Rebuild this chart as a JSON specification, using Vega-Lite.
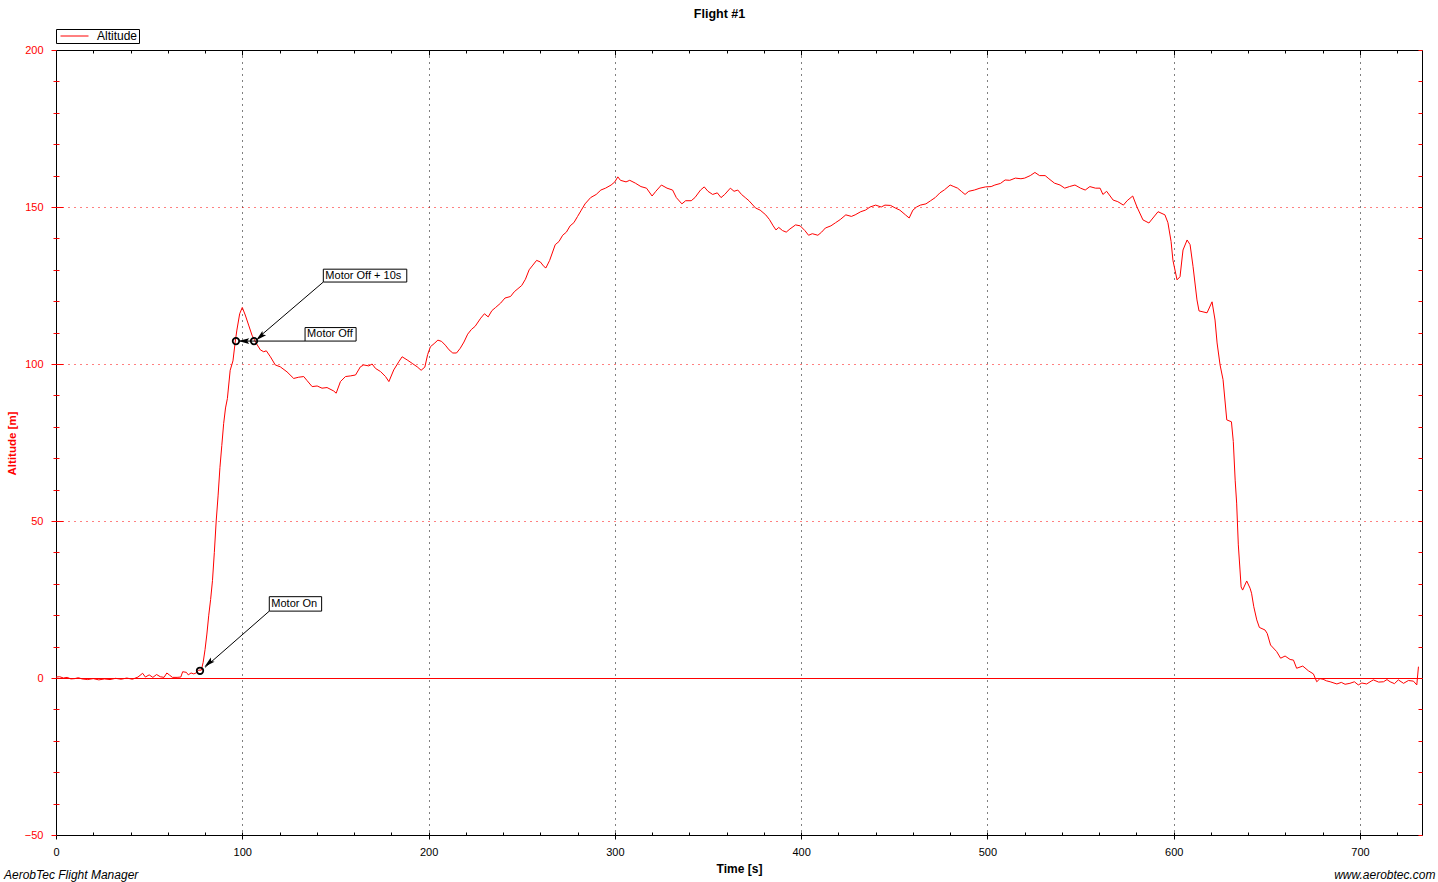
{
  "$schema": "https://vega.github.io/schema/vega-lite/v6.json",
  "width": 1366,
  "height": 785,
  "autosize": {"type": "none"},
  "padding": {"left": 56, "top": 50, "right": 16, "bottom": 47},
  "background": "white",
  "config": {
    "font": "Liberation Sans",
    "view": {"stroke": "black", "strokeWidth": 1},
    "axis": {"labelFont": "Liberation Sans", "titleFont": "Liberation Sans", "domain": false},
    "legend": {"labelFont": "Liberation Sans"}
  },
  "title": {
    "text": "AerobTec Flight Manager",
    "orient": "bottom",
    "anchor": "start",
    "frame": "group",
    "font": "Liberation Sans",
    "fontStyle": "italic",
    "fontWeight": "normal",
    "fontSize": 12,
    "color": "black",
    "dx": -52,
    "offset": -10
  },
  "datasets": {
    "altitude": [
      {"t": 0, "alt": 0.3}, {"t": 2, "alt": 0.4}, {"t": 4, "alt": 0}, {"t": 6, "alt": 0.2}, {"t": 8, "alt": -0.3},
      {"t": 10, "alt": -0.2}, {"t": 12, "alt": 0.1}, {"t": 14, "alt": -0.3}, {"t": 17, "alt": -0.5}, {"t": 20, "alt": -0.2},
      {"t": 23, "alt": -0.6}, {"t": 26, "alt": -0.3}, {"t": 29, "alt": -0.5}, {"t": 32, "alt": -0.1}, {"t": 35, "alt": -0.4},
      {"t": 38, "alt": 0}, {"t": 41, "alt": -0.4}, {"t": 44, "alt": 0.3}, {"t": 46.5, "alt": 1.5}, {"t": 48, "alt": 0.3},
      {"t": 50, "alt": 1.0}, {"t": 52, "alt": 0.2}, {"t": 54, "alt": 1.1}, {"t": 56, "alt": 0.4}, {"t": 58, "alt": 0.2},
      {"t": 59.5, "alt": 1.6}, {"t": 61, "alt": 0.9}, {"t": 62.5, "alt": 0.2}, {"t": 65, "alt": 0.2}, {"t": 67, "alt": 0.3},
      {"t": 68, "alt": 2.0}, {"t": 70, "alt": 1.8}, {"t": 71, "alt": 1.0}, {"t": 72.5, "alt": 1.6}, {"t": 74, "alt": 1.3},
      {"t": 75.5, "alt": 1.7}, {"t": 76.5, "alt": 2.5}, {"t": 78, "alt": 2.5}, {"t": 79, "alt": 5},
      {"t": 80, "alt": 9}, {"t": 81, "alt": 14}, {"t": 82, "alt": 20}, {"t": 83, "alt": 25}, {"t": 84, "alt": 31},
      {"t": 85, "alt": 40}, {"t": 86, "alt": 50}, {"t": 87, "alt": 58}, {"t": 88, "alt": 67}, {"t": 89, "alt": 74},
      {"t": 90, "alt": 81}, {"t": 91, "alt": 86}, {"t": 92, "alt": 89}, {"t": 93.5, "alt": 98}, {"t": 95, "alt": 101},
      {"t": 96.2, "alt": 107}, {"t": 97.1, "alt": 110.8}, {"t": 98.6, "alt": 116}, {"t": 100, "alt": 118}, {"t": 101.6, "alt": 115.6},
      {"t": 103.4, "alt": 112.4}, {"t": 105.2, "alt": 109.2}, {"t": 107.5, "alt": 106.6}, {"t": 109.7, "alt": 104.5}, {"t": 111.5, "alt": 103.9},
      {"t": 112.9, "alt": 104.2}, {"t": 115.1, "alt": 102.3}, {"t": 117.7, "alt": 99.7}, {"t": 120.4, "alt": 99.1}, {"t": 124, "alt": 97.5},
      {"t": 127.6, "alt": 95.4}, {"t": 130.3, "alt": 95.8}, {"t": 133, "alt": 96}, {"t": 134.8, "alt": 94.7}, {"t": 137.5, "alt": 92.8},
      {"t": 140.2, "alt": 93}, {"t": 142.8, "alt": 92.3}, {"t": 145.5, "alt": 92.5}, {"t": 149.1, "alt": 91.4}, {"t": 150.4, "alt": 90.7},
      {"t": 152.7, "alt": 94.4}, {"t": 155.4, "alt": 96}, {"t": 158, "alt": 96.2}, {"t": 160.8, "alt": 96.5}, {"t": 163.4, "alt": 99.1},
      {"t": 165.2, "alt": 99.7}, {"t": 167.9, "alt": 99.4}, {"t": 169.7, "alt": 100}, {"t": 171.5, "alt": 98.6}, {"t": 174.2, "alt": 97.6},
      {"t": 176.9, "alt": 96}, {"t": 178.7, "alt": 94.4}, {"t": 181.3, "alt": 98.1}, {"t": 184, "alt": 100.7}, {"t": 185.8, "alt": 102.3},
      {"t": 188.5, "alt": 101.3}, {"t": 191.2, "alt": 100.2}, {"t": 193.9, "alt": 99.1}, {"t": 196, "alt": 98}, {"t": 198, "alt": 99},
      {"t": 199.5, "alt": 103}, {"t": 201, "alt": 105.5}, {"t": 203, "alt": 106.5}, {"t": 205, "alt": 107.6}, {"t": 207, "alt": 107.2},
      {"t": 209, "alt": 106}, {"t": 211, "alt": 104.5}, {"t": 213, "alt": 103.5}, {"t": 215, "alt": 103.5}, {"t": 217, "alt": 105},
      {"t": 219, "alt": 107}, {"t": 221, "alt": 109.5}, {"t": 223, "alt": 111}, {"t": 225, "alt": 112}, {"t": 228, "alt": 114.6},
      {"t": 230, "alt": 116}, {"t": 232, "alt": 115}, {"t": 234, "alt": 117}, {"t": 236, "alt": 118}, {"t": 238.7, "alt": 119.4},
      {"t": 241, "alt": 121}, {"t": 244, "alt": 121.5}, {"t": 246, "alt": 123}, {"t": 248, "alt": 124}, {"t": 250, "alt": 125},
      {"t": 252, "alt": 127}, {"t": 254, "alt": 130}, {"t": 256, "alt": 131.5}, {"t": 258, "alt": 133}, {"t": 260, "alt": 132.5},
      {"t": 262, "alt": 131}, {"t": 263, "alt": 130.6}, {"t": 265, "alt": 133}, {"t": 268, "alt": 138}, {"t": 270, "alt": 139},
      {"t": 272, "alt": 141}, {"t": 274, "alt": 142}, {"t": 276, "alt": 144}, {"t": 278, "alt": 145}, {"t": 280, "alt": 147},
      {"t": 282, "alt": 149}, {"t": 284, "alt": 151}, {"t": 287, "alt": 153}, {"t": 290, "alt": 154}, {"t": 292.5, "alt": 155.4},
      {"t": 295, "alt": 156}, {"t": 298, "alt": 157}, {"t": 300, "alt": 158}, {"t": 301.6, "alt": 159.6}, {"t": 303, "alt": 158.5},
      {"t": 306, "alt": 158}, {"t": 308, "alt": 158.5}, {"t": 311, "alt": 157.6}, {"t": 314, "alt": 156.5}, {"t": 317, "alt": 156},
      {"t": 320, "alt": 153.5}, {"t": 322, "alt": 155}, {"t": 325, "alt": 157}, {"t": 328, "alt": 156}, {"t": 331, "alt": 155.4},
      {"t": 333, "alt": 153}, {"t": 336, "alt": 151}, {"t": 338, "alt": 152}, {"t": 341, "alt": 152}, {"t": 343, "alt": 153},
      {"t": 346, "alt": 155.4}, {"t": 348, "alt": 156.4}, {"t": 350, "alt": 155}, {"t": 352.5, "alt": 154}, {"t": 355, "alt": 154.5},
      {"t": 357, "alt": 153}, {"t": 359, "alt": 154}, {"t": 362, "alt": 156}, {"t": 364, "alt": 155}, {"t": 366, "alt": 155.4},
      {"t": 368, "alt": 154}, {"t": 370, "alt": 153}, {"t": 372, "alt": 152}, {"t": 375.5, "alt": 149.7}, {"t": 378, "alt": 149},
      {"t": 381, "alt": 147.5}, {"t": 383, "alt": 146}, {"t": 385, "alt": 144}, {"t": 386.5, "alt": 142.7}, {"t": 388, "alt": 143.5},
      {"t": 390, "alt": 142.5}, {"t": 392, "alt": 142}, {"t": 394, "alt": 143}, {"t": 397, "alt": 144.3}, {"t": 399.5, "alt": 144},
      {"t": 402, "alt": 142.5}, {"t": 404, "alt": 141}, {"t": 406, "alt": 141.5}, {"t": 409, "alt": 141}, {"t": 411, "alt": 142},
      {"t": 413, "alt": 143.3}, {"t": 416, "alt": 144}, {"t": 418.5, "alt": 145}, {"t": 421, "alt": 146}, {"t": 424, "alt": 147.5},
      {"t": 427, "alt": 147}, {"t": 429, "alt": 147.5}, {"t": 432, "alt": 148.5}, {"t": 434.5, "alt": 149}, {"t": 437, "alt": 150},
      {"t": 440, "alt": 150.6}, {"t": 443, "alt": 150}, {"t": 445, "alt": 150.6}, {"t": 448, "alt": 150.5}, {"t": 450.5, "alt": 149.7},
      {"t": 453, "alt": 149}, {"t": 456, "alt": 147.5}, {"t": 458, "alt": 146.5}, {"t": 460, "alt": 149}, {"t": 462, "alt": 150},
      {"t": 464, "alt": 150.6}, {"t": 467, "alt": 151}, {"t": 469.5, "alt": 152}, {"t": 472, "alt": 153}, {"t": 474.5, "alt": 154.5},
      {"t": 477, "alt": 155.5}, {"t": 480, "alt": 157}, {"t": 482, "alt": 156.5}, {"t": 484, "alt": 156}, {"t": 486, "alt": 155},
      {"t": 488, "alt": 154}, {"t": 490, "alt": 155}, {"t": 493, "alt": 155.4}, {"t": 496, "alt": 156}, {"t": 499, "alt": 156.4},
      {"t": 502, "alt": 156.5}, {"t": 504, "alt": 157}, {"t": 507, "alt": 157.5}, {"t": 509.5, "alt": 158.6}, {"t": 512, "alt": 158.5},
      {"t": 515, "alt": 159.2}, {"t": 518, "alt": 159}, {"t": 520, "alt": 159.2}, {"t": 523, "alt": 160}, {"t": 525.5, "alt": 161},
      {"t": 528, "alt": 160}, {"t": 531, "alt": 160}, {"t": 533, "alt": 159}, {"t": 536, "alt": 157.6}, {"t": 539, "alt": 157},
      {"t": 541.5, "alt": 156}, {"t": 544, "alt": 156.5}, {"t": 547, "alt": 157}, {"t": 550, "alt": 156}, {"t": 552.5, "alt": 155.4},
      {"t": 555, "alt": 156.5}, {"t": 558, "alt": 156}, {"t": 560.5, "alt": 156}, {"t": 562, "alt": 154}, {"t": 564, "alt": 155},
      {"t": 567.5, "alt": 152.2}, {"t": 570, "alt": 151.7}, {"t": 573, "alt": 150.6}, {"t": 575, "alt": 152}, {"t": 578, "alt": 153.5},
      {"t": 580.3, "alt": 150}, {"t": 583.5, "alt": 145.9}, {"t": 586.7, "alt": 144.9}, {"t": 591.6, "alt": 148.5}, {"t": 595.3, "alt": 147.5},
      {"t": 596.9, "alt": 145}, {"t": 598.6, "alt": 139}, {"t": 599.6, "alt": 133}, {"t": 601.8, "alt": 126.8}, {"t": 603.4, "alt": 127.8},
      {"t": 605, "alt": 136.3}, {"t": 607.2, "alt": 139.5}, {"t": 608.8, "alt": 138}, {"t": 610.4, "alt": 131}, {"t": 612.5, "alt": 120.4},
      {"t": 613.6, "alt": 116.9}, {"t": 617.9, "alt": 116.3}, {"t": 620.6, "alt": 119.8}, {"t": 622.2, "alt": 114}, {"t": 623.3, "alt": 106.7},
      {"t": 624.9, "alt": 99.7}, {"t": 626.5, "alt": 95}, {"t": 628.5, "alt": 82.2}, {"t": 631, "alt": 81.6}, {"t": 632, "alt": 75.3},
      {"t": 633, "alt": 63}, {"t": 633.8, "alt": 55.7}, {"t": 634.7, "alt": 42.4}, {"t": 635.6, "alt": 34.4}, {"t": 636.2, "alt": 29},
      {"t": 637, "alt": 28}, {"t": 639.2, "alt": 30.9}, {"t": 641, "alt": 28.6}, {"t": 641.8, "alt": 27}, {"t": 643, "alt": 22.7},
      {"t": 644.6, "alt": 18.5}, {"t": 646, "alt": 16.1}, {"t": 649, "alt": 15.3}, {"t": 650.2, "alt": 14.2}, {"t": 652, "alt": 10.5},
      {"t": 655.3, "alt": 8.4}, {"t": 657.4, "alt": 6.3}, {"t": 659.8, "alt": 7}, {"t": 662.5, "alt": 5.9}, {"t": 664.3, "alt": 5.7},
      {"t": 666, "alt": 3.1}, {"t": 669.3, "alt": 3.8}, {"t": 672.3, "alt": 2.3}, {"t": 675, "alt": 1.3}, {"t": 676.8, "alt": -1.2},
      {"t": 678.5, "alt": -0.2}, {"t": 680.2, "alt": -0.4}, {"t": 682, "alt": -0.9}, {"t": 684, "alt": -1.2}, {"t": 687.6, "alt": -1.9},
      {"t": 690, "alt": -1.4}, {"t": 692, "alt": -2.0}, {"t": 694.6, "alt": -1.7}, {"t": 697, "alt": -1.2}, {"t": 699.1, "alt": -2.2},
      {"t": 701, "alt": -1.6}, {"t": 703.6, "alt": -1.9}, {"t": 706, "alt": -1.0}, {"t": 707.2, "alt": -0.6}, {"t": 710, "alt": -1.3},
      {"t": 712.6, "alt": -1.2}, {"t": 714.5, "alt": -0.5}, {"t": 716.2, "alt": -1.2}, {"t": 718.5, "alt": -1.8}, {"t": 720.6, "alt": -0.6},
      {"t": 723.4, "alt": -1.7}, {"t": 726, "alt": -0.8}, {"t": 728.7, "alt": -1}, {"t": 730.5, "alt": -2.2}, {"t": 731.4, "alt": 3.6}
    ],
    "events": [
      {"event": "Motor On", "t": 77.3, "alt": 2.3},
      {"event": "Motor Off", "t": 96.6, "alt": 107.3},
      {"event": "Motor Off + 10s", "t": 106.3, "alt": 107.3}
    ],
    "labels": [
      {"label": "Motor On", "tx": 115.6, "ty": 23.6, "bx1": 114.5, "bx2": 142.6, "by1": 25.9, "by2": 21.3},
      {"label": "Motor Off", "tx": 134.8, "ty": 109.4, "bx1": 133.7, "bx2": 161.1, "by1": 111.6, "by2": 107.3},
      {"label": "Motor Off + 10s", "tx": 144.6, "ty": 128.1, "bx1": 143.5, "bx2": 188.3, "by1": 130.2, "by2": 126.1}
    ],
    "arrows": [
      {"label": "Motor On", "x1": 114.5, "y1": 21.3, "x2": 80, "y2": 3.4},
      {"label": "Motor Off", "x1": 133.7, "y1": 107.3, "x2": 98.5, "y2": 107.3},
      {"label": "Motor Off + 10s", "x1": 143.5, "y1": 126.1, "x2": 108.4, "y2": 108.3}
    ],
    "heads": [
      {"label": "Motor On", "t": 82.3, "alt": 4.9},
      {"label": "Motor Off", "t": 101.3, "alt": 107.3},
      {"label": "Motor Off + 10s", "t": 110.0, "alt": 108.9}
    ]
  },
  "resolve": {"axis": {"x": "independent", "y": "independent"}},
  "layer": [
    {
      "data": {"name": "altitude"},
      "mark": {"type": "line", "strokeWidth": 1, "interpolate": "linear"},
      "encoding": {
        "x": {
          "field": "t", "type": "quantitative",
          "scale": {"domain": [0, 733.3], "nice": false, "zero": false},
          "axis": {
            "orient": "bottom",
            "values": [0, 100, 200, 300, 400, 500, 600, 700],
            "tickSize": 4, "tickColor": "black", "tickWidth": 1,
            "labelFontSize": 11, "labelColor": "black", "labelPadding": 7, "labelFlush": false,
            "title": "Time [s]", "titleFontSize": 12, "titleFontWeight": "bold", "titleColor": "black",
            "titleY": 37, "titleBaseline": "alphabetic",
            "grid": true, "gridColor": "black", "gridDash": [1, 5], "gridWidth": 1,
            "gridOpacity": {"condition": {"test": "datum.value > 0", "value": 1}, "value": 0}
          }
        },
        "y": {
          "field": "alt", "type": "quantitative",
          "scale": {"domain": [-50, 200], "nice": false, "zero": false},
          "axis": {
            "orient": "left",
            "values": [-50, 0, 50, 100, 150, 200],
            "tickSize": 5, "tickColor": "#ff0000", "tickWidth": 1,
            "labelFontSize": 11, "labelColor": "#ff0000", "labelPadding": 8, "labelFlush": false,
            "title": "Altitude [m]", "titleFontSize": 11.5, "titleFontWeight": "bold", "titleColor": "#ff0000",
            "titleX": -40.5, "titleY": 393, "titleAngle": 270, "titleBaseline": "alphabetic", "titleAlign": "center",
            "grid": true, "gridColor": "#ff0000", "gridWidth": 1,
            "gridDash": {"condition": {"test": "datum.value === 0", "value": []}, "value": [1, 5]},
            "gridOpacity": {"condition": {"test": "datum.value > -50 && datum.value < 200", "value": 1}, "value": 0}
          }
        },
        "color": {
          "datum": "Altitude",
          "scale": {"range": ["#ff0000"]},
          "legend": {
            "orient": "none", "legendX": 0, "legendY": -21,
            "title": null, "symbolType": "stroke", "symbolSize": 784, "symbolStrokeWidth": 1,
            "clipHeight": 12,
            "symbolOffset": 3, "labelFontSize": 12, "labelColor": "black", "labelOffset": 8,
            "labelExpr": "datum.label + '  '",
            "padding": 1, "strokeColor": "black", "fillColor": "white"
          }
        }
      }
    },
    {
      "data": {"name": "events"},
      "mark": {"type": "point", "opacity": 0},
      "encoding": {
        "x": {
          "field": "t", "type": "quantitative",
          "axis": {
            "orient": "top",
            "values": [0, 20, 40, 60, 80, 100, 120, 140, 160, 180, 200, 220, 240, 260, 280, 300, 320, 340, 360, 380, 400, 420, 440, 460, 480, 500, 520, 540, 560, 580, 600, 620, 640, 660, 680, 700, 720],
            "labels": false, "grid": false, "tickColor": "black",
            "tickSize": {"condition": {"test": "datum.value % 100 === 0", "value": -5}, "value": -3},
            "title": "Flight #1", "titleFontSize": 12.5, "titleFontWeight": "bold", "titleColor": "black",
            "titleX": 663, "titleY": -33, "titleBaseline": "alphabetic", "titleAlign": "center"
          }
        },
        "y": {
          "field": "alt", "type": "quantitative",
          "axis": {
            "orient": "right",
            "values": [-50, -40, -30, -20, -10, 0, 10, 20, 30, 40, 50, 60, 70, 80, 90, 100, 110, 120, 130, 140, 150, 160, 170, 180, 190, 200],
            "labels": false, "grid": false, "tickColor": "#ff0000", "tickSize": -4,
            "title": "www.aerobtec.com", "titleFontSize": 12, "titleFontWeight": "normal", "titleFontStyle": "italic",
            "titleColor": "black", "titleAngle": 0, "titleX": 13, "titleY": 828, "titleBaseline": "alphabetic", "titleAlign": "right"
          }
        }
      }
    },
    {
      "data": {"name": "events"},
      "mark": {"type": "point", "opacity": 0},
      "encoding": {
        "x": {
          "field": "t", "type": "quantitative",
          "axis": {
            "orient": "bottom",
            "values": [0, 20, 40, 60, 80, 100, 120, 140, 160, 180, 200, 220, 240, 260, 280, 300, 320, 340, 360, 380, 400, 420, 440, 460, 480, 500, 520, 540, 560, 580, 600, 620, 640, 660, 680, 700, 720],
            "labels": false, "grid": false, "tickColor": "black", "tickSize": -3, "title": null
          }
        },
        "y": {
          "field": "alt", "type": "quantitative",
          "axis": {
            "orient": "left",
            "values": [-40, -30, -20, -10, 0, 10, 20, 30, 40, 50, 60, 70, 80, 90, 100, 110, 120, 130, 140, 150, 160, 170, 180, 190],
            "labels": false, "grid": false, "tickColor": "#ff0000",
            "tickSize": {"condition": {"test": "datum.value % 50 === 0", "value": -7}, "value": -3},
            "title": null
          }
        }
      }
    },
    {
      "data": {"name": "events"},
      "mark": {"type": "point", "opacity": 0},
      "encoding": {
        "x": {"field": "t", "type": "quantitative", "axis": null},
        "y": {
          "field": "alt", "type": "quantitative",
          "axis": {
            "orient": "left",
            "values": [-40, -30, -20, -10, 10, 20, 30, 40, 60, 70, 80, 90, 110, 120, 130, 140, 160, 170, 180, 190],
            "labels": false, "grid": false, "tickColor": "#ff0000", "tickSize": 3, "title": null
          }
        }
      }
    },
    {
      "data": {"name": "arrows"},
      "mark": {"type": "rule", "color": "black", "strokeWidth": 1},
      "encoding": {
        "x": {"field": "x1", "type": "quantitative", "axis": null},
        "y": {"field": "y1", "type": "quantitative", "axis": null},
        "x2": {"field": "x2"},
        "y2": {"field": "y2"}
      }
    },
    {
      "data": {"name": "labels"},
      "mark": {"type": "rect", "fill": "white", "stroke": "black", "strokeWidth": 1},
      "encoding": {
        "x": {"field": "bx1", "type": "quantitative", "axis": null},
        "x2": {"field": "bx2"},
        "y": {"field": "by1", "type": "quantitative", "axis": null},
        "y2": {"field": "by2"}
      }
    },
    {
      "data": {"name": "labels"},
      "mark": {"type": "text", "align": "left", "baseline": "middle", "fontSize": 11, "color": "black", "font": "Liberation Sans"},
      "encoding": {
        "x": {"field": "tx", "type": "quantitative", "axis": null},
        "y": {"field": "ty", "type": "quantitative", "axis": null},
        "text": {"field": "label"}
      }
    },
    {
      "data": {"name": "events"},
      "mark": {"type": "point", "shape": "circle", "filled": false, "stroke": "black", "strokeWidth": 1.8, "size": 42, "opacity": 1},
      "encoding": {
        "x": {"field": "t", "type": "quantitative", "axis": null},
        "y": {"field": "alt", "type": "quantitative", "axis": null}
      }
    },
    {
      "data": {"name": "heads"},
      "transform": [{"filter": "datum.label !== 'Motor Off'"}],
      "mark": {"type": "point", "shape": "M0,-1L0.45,0.7L0,0.4L-0.45,0.7Z", "filled": true, "color": "black", "size": 160, "angle": 229, "opacity": 1},
      "encoding": {
        "x": {"field": "t", "type": "quantitative", "axis": null},
        "y": {"field": "alt", "type": "quantitative", "axis": null}
      }
    },
    {
      "data": {"name": "heads"},
      "transform": [{"filter": "datum.label === 'Motor Off'"}],
      "mark": {"type": "point", "shape": "M0,-1L0.45,0.7L0,0.4L-0.45,0.7Z", "filled": true, "color": "black", "size": 160, "angle": 270, "opacity": 1},
      "encoding": {
        "x": {"field": "t", "type": "quantitative", "axis": null},
        "y": {"field": "alt", "type": "quantitative", "axis": null}
      }
    }
  ]
}
